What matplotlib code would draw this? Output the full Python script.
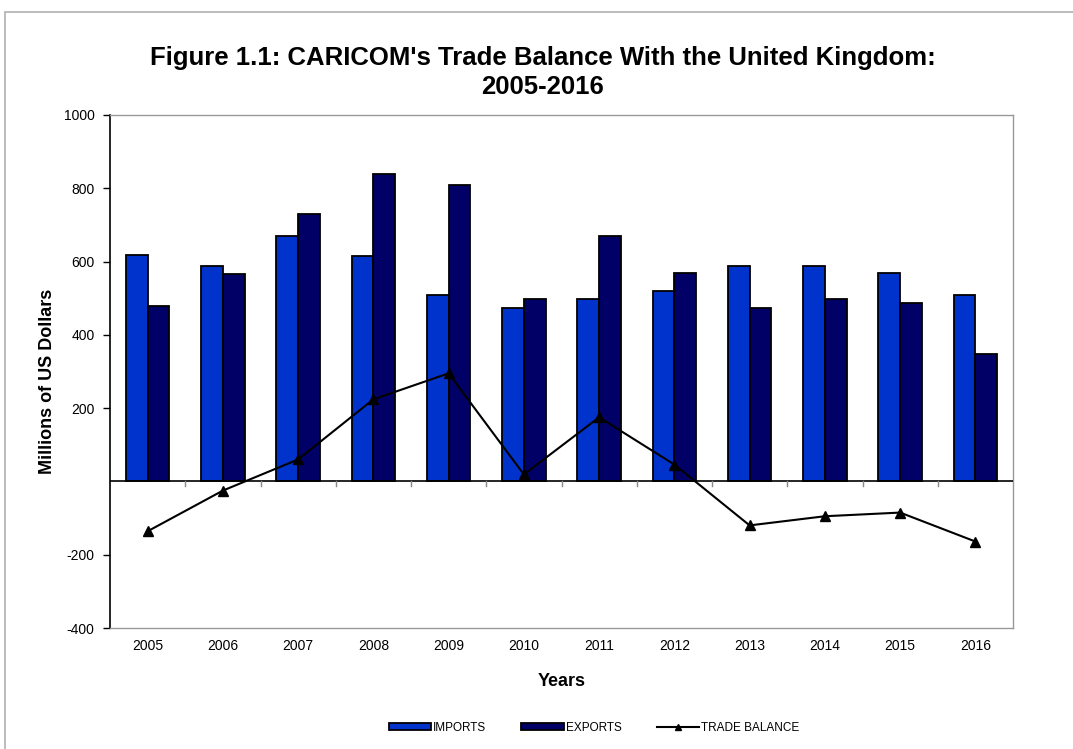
import numpy as np
import matplotlib.pyplot as plt
from matplotlib.patches import Rectangle

years = ["2005", "2006", "2007", "2008", "2009", "2010",
         "2011", "2012", "2013", "2014", "2015", "2016"]
imports = [617, 587, 671, 614, 510, 472, 497, 521, 589, 587, 568, 508]
exports = [480, 565, 731, 838, 808, 499, 671, 570, 472, 497, 486, 347]
balance = [-136, -25, 60, 224, 295, 19, 175, 46, -120, -95, -85, -164]

plt.rcParams["font.family"] = ["Liberation Sans", "DejaVu Sans"]

fig = plt.figure(figsize=(10.73, 7.49), dpi=100)
ax = fig.add_axes([110 / 1073, 1 - 628 / 749, 903 / 1073, 513 / 749])

# grey frame around the whole chart
fig.patches.append(Rectangle((5 / 1073, -0.01), 1.02, 1 - 12 / 749 + 0.01,
                             transform=fig.transFigure, fill=False,
                             edgecolor="#b0b0b0", linewidth=1.2))

x = np.arange(len(years))
w = 0.29
b1 = ax.bar(x - w / 2, imports, w, color="#0033cc", edgecolor="black",
            linewidth=1.3, label="IMPORTS", zorder=2)
b2 = ax.bar(x + w / 2, exports, w, color="#000066", edgecolor="black",
            linewidth=1.3, label="EXPORTS", zorder=2)
ln, = ax.plot(x, balance, color="black", linewidth=1.5, marker="^",
              markersize=7, label="TRADE BALANCE", zorder=3)

ax.set_xlim(-0.5, len(years) - 0.5)
ax.set_ylim(-400, 1000)
ax.set_yticks([-400, -200, 200, 400, 600, 800, 1000])
ax.set_yticklabels(["-400", "-200", "200", "400", "600", "800", "1000"])
ax.tick_params(axis="y", direction="out", length=5, width=1, labelsize=10, pad=6)

# horizontal axis line at zero with ticks between categories
ax.axhline(0, color="black", linewidth=1.2, zorder=4)
for b in np.arange(0.5, len(years) - 0.5, 1):
    ax.plot([b, b], [0, -12], color="#888888", linewidth=1, zorder=4)
ax.set_xticks(x)
ax.set_xticklabels(years)
ax.tick_params(axis="x", length=0, labelsize=10, pad=8)

for s in ["top", "right", "bottom"]:
    ax.spines[s].set_color("#999999")
    ax.spines[s].set_linewidth(1)
ax.spines["left"].set_color("black")
ax.spines["left"].set_linewidth(1.2)

ax.set_xlabel("Years", fontsize=13, fontweight="bold", labelpad=14)
ax.set_ylabel("Millions of US Dollars", fontsize=13, fontweight="bold")
ax.yaxis.set_label_coords(-0.06, 0.48)
fig.suptitle("Figure 1.1: CARICOM's Trade Balance With the United Kingdom:\n2005-2016",
             fontsize=18.5, fontweight="bold", y=1 - 46 / 749, va="top",
             x=543 / 1073, linespacing=1.25)

leg = fig.legend([b1, b2, ln], ["IMPORTS", "EXPORTS", "TRADE BALANCE"],
                 loc="center", bbox_to_anchor=(594 / 1073, 1 - 728 / 749), ncol=3,
                 frameon=False, fontsize=8.5, handlelength=3.6, handleheight=0.5,
                 columnspacing=3.0, handletextpad=0.15)
leg.legend_handles[2].set_markersize(5)

fig.savefig("out.png", dpi=100)
